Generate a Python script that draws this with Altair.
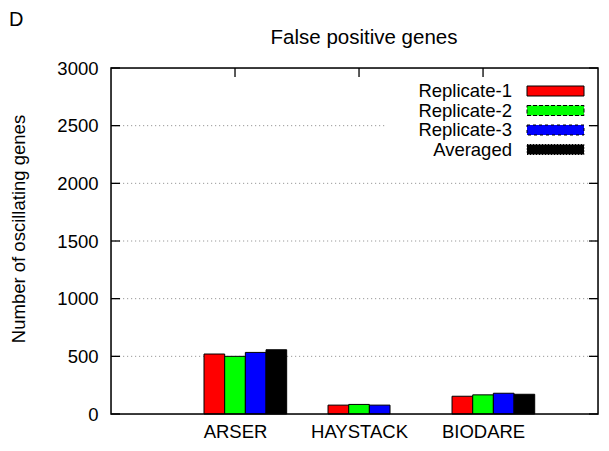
import altair as alt
import pandas as pd

# ---- data ----
categories = ["ARSER", "HAYSTACK", "BIODARE"]
series = ["Replicate-1", "Replicate-2", "Replicate-3", "Averaged"]
rep1 = [520, 77, 154]
rep2 = [500, 83, 166]
rep3 = [534, 77, 180]
averaged = [557, None, 171]
colors = ["#ff0000", "#00ff00", "#0000ff", "#000000"]
dashes = [[1, 0], [4, 2], [3, 3], [1, 2]]
y_ticks = [0, 500, 1000, 1500, 2000, 2500, 3000]
title_text = "False positive genes"
y_title = "Number of oscillating genes"
panel_label = "D"

FONT = "Liberation Sans"
W, H = 487, 346
BW = 1 / 6

rows = []
for si, (s, vals) in enumerate(zip(series, [rep1, rep2, rep3, averaged])):
    for ci, v in enumerate(vals):
        if v is None:
            continue
        center = ci + (si - 1) * BW
        rows.append(dict(series=s, cat=categories[ci], x=center - BW / 2,
                         x2=center + BW / 2, value=v, base=0))
bars_df = pd.DataFrame(rows)

xscale = alt.Scale(domain=[-1, 2.927], nice=False, zero=False)
yscale = alt.Scale(domain=[0, 3000], nice=False, zero=False)
label_expr = "[" + ",".join(f"'{c}'" for c in categories) + "][datum.value]"

xaxis = alt.Axis(values=[0, 1, 2], labelExpr=label_expr, ticks=False, tickSize=0,
                 domain=False, grid=False, title=None, labelFontSize=18.5,
                 labelColor="black", labelFont=FONT, labelPadding=8)
yaxis = alt.Axis(values=y_ticks, ticks=False, tickSize=0, domain=False, grid=False,
                 title=None, labelFontSize=18.5, labelColor="black", labelFont=FONT,
                 labelPadding=13, format="d")

one = pd.DataFrame({"a": [0]})
layers = []

# grid lines
grid_df = pd.DataFrame({"v": y_ticks[1:-1]})
layers.append(
    alt.Chart(grid_df).mark_rule(color="#9a9a9a", strokeDash=[1.2, 2.8], strokeWidth=1)
    .encode(y=alt.Y("v:Q", scale=yscale, axis=yaxis), x=alt.value(0), x2=alt.value(W))
)
# legend blanking box
layers.append(
    alt.Chart(one).mark_rect(color="white")
    .encode(x=alt.value(274), x2=alt.value(477), y=alt.value(12), y2=alt.value(92))
)
# bars
layers.append(
    alt.Chart(bars_df).mark_rect(stroke="black", strokeWidth=1)
    .encode(
        x=alt.X("x:Q", scale=xscale, axis=xaxis), x2="x2",
        y=alt.Y("value:Q", scale=yscale, axis=yaxis), y2="base",
        fill=alt.Fill("series:N", scale=alt.Scale(domain=series, range=colors), legend=None),
        strokeDash=alt.StrokeDash("series:N", scale=alt.Scale(domain=series, range=dashes),
                                  legend=None),
    )
)
# inward ticks
tick_df = pd.DataFrame({"v": y_ticks})
layers.append(
    alt.Chart(tick_df).mark_rule(color="black", strokeWidth=1.3)
    .encode(y=alt.Y("v:Q", scale=yscale, axis=yaxis), x=alt.value(0), x2=alt.value(9))
)
layers.append(
    alt.Chart(tick_df).mark_rule(color="black", strokeWidth=1.3)
    .encode(y=alt.Y("v:Q", scale=yscale, axis=yaxis), x=alt.value(W - 9), x2=alt.value(W))
)
xt_df = pd.DataFrame({"p": list(range(len(categories)))})
layers.append(
    alt.Chart(xt_df).mark_rule(color="black", strokeWidth=1.3)
    .encode(x=alt.X("p:Q", scale=xscale, axis=xaxis), y=alt.value(0), y2=alt.value(9))
)
# plot frame
layers.append(
    alt.Chart(one).mark_rect(fillOpacity=0, stroke="black", strokeWidth=1.5)
    .encode(x=alt.value(0), x2=alt.value(W), y=alt.value(0), y2=alt.value(H))
)
# legend
for i, (s, c, d) in enumerate(zip(series, colors, dashes)):
    yc = 23 + 19.5 * i
    layers.append(
        alt.Chart(one).mark_rect(fill=c, stroke="black", strokeWidth=1, strokeDash=d)
        .encode(x=alt.value(416), x2=alt.value(473), y=alt.value(yc - 5), y2=alt.value(yc + 5))
    )
    layers.append(
        alt.Chart(one).mark_text(align="right", baseline="middle", fontSize=18.5,
                                 font=FONT, color="black")
        .encode(x=alt.value(401), y=alt.value(yc), text=alt.value(s))
    )
# titles
layers.append(
    alt.Chart(one).mark_text(align="center", baseline="alphabetic", fontSize=20.5,
                             font=FONT, color="black")
    .encode(x=alt.value(253), y=alt.value(-24), text=alt.value(title_text))
)
layers.append(
    alt.Chart(one).mark_text(align="left", baseline="alphabetic", fontSize=20,
                             font=FONT, color="black")
    .encode(x=alt.value(-102), y=alt.value(-42), text=alt.value(panel_label))
)
layers.append(
    alt.Chart(one).mark_text(align="center", baseline="middle", fontSize=18.5, angle=270,
                             font=FONT, color="black")
    .encode(x=alt.value(-92.5), y=alt.value(161), text=alt.value(y_title))
)

chart = (
    alt.layer(*layers)
    .properties(width=W, height=H,
                padding={"left": 103, "top": 60, "right": 3, "bottom": 29},
                autosize=alt.AutoSizeParams(type="none"))
    .configure_view(stroke="black", strokeWidth=1.5)
    .configure(font=FONT)
)

chart.save("out.html", embed_options={"renderer": "svg", "actions": False})
